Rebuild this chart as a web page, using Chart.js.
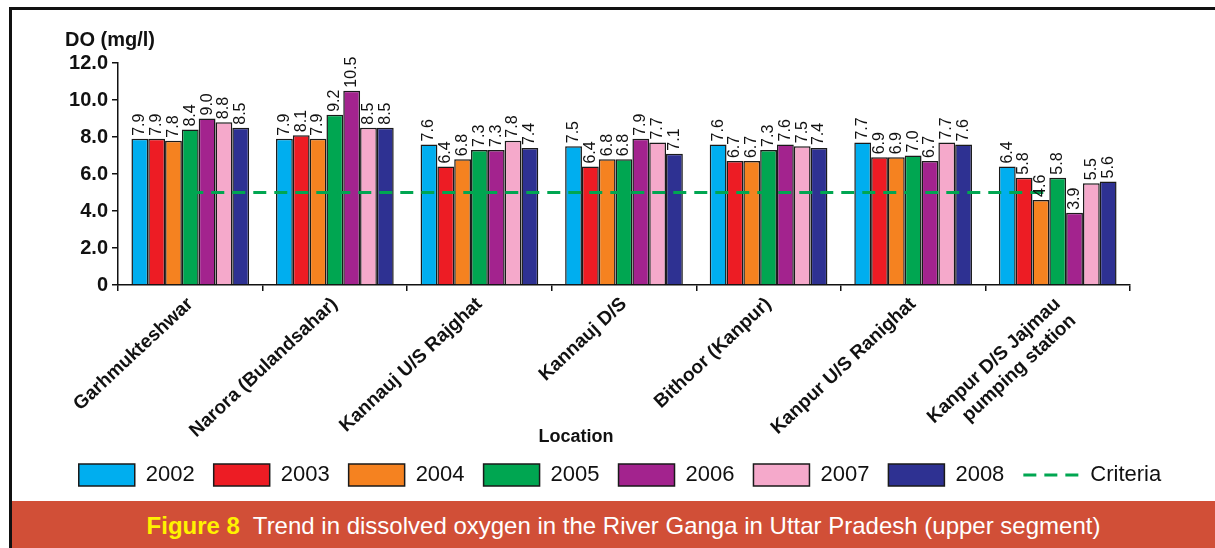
<!DOCTYPE html>
<html>
<head>
<meta charset="utf-8">
<script src="https://cdn.jsdelivr.net/npm/chart.js@4.4.0/dist/chart.umd.min.js"></script>
<style>
  body { margin: 0; background: #fff; width: 1215px; height: 548px; overflow: hidden; position: relative; font-family: 'Liberation Sans', Arial, sans-serif; }
  #frame { position: absolute; left: 9px; top: 7px; width: 1220px; height: 560px; border-left: 3px solid #111; border-top: 3px solid #111; }
  #wrap { position: absolute; left: 12px; top: 10px; width: 1203px; height: 490px; }
  #banner { position: absolute; left: 12px; top: 501px; width: 1183px; padding-left: 20px; height: 47px; background: #D14F37; color: #fff; font-size: 24px; line-height: 49px; text-align: center; white-space: nowrap; }
  #banner b { color: #FFF200; }
</style>
</head>
<body>
<div id="frame"></div>
<div id="wrap"><canvas id="doChart" width="1203" height="490"></canvas></div>
<div id="banner"><b>Figure 8</b>&nbsp; Trend in dissolved oxygen in the River Ganga in Uttar Pradesh (upper segment)</div>

<script>
// ---------- data ----------
const locations = [
    "Garhmukteshwar",
    "Narora (Bulandsahar)",
    "Kannauj U/S Rajghat",
    "Kannauj D/S",
    "Bithoor (Kanpur)",
    "Kanpur U/S Ranighat",
    ["Kanpur D/S Jajmau", "pumping station"]
];

const years = ["2002", "2003", "2004", "2005", "2006", "2007", "2008"];

const do2002 = [7.9, 7.9, 7.6, 7.5, 7.6, 7.7, 6.4];
const do2003 = [7.9, 8.1, 6.4, 6.4, 6.7, 6.9, 5.8];
const do2004 = [7.8, 7.9, 6.8, 6.8, 6.7, 6.9, 4.6];
const do2005 = [8.4, 9.2, 7.3, 6.8, 7.3, 7.0, 5.8];
const do2006 = [9.0, 10.5, 7.3, 7.9, 7.6, 6.7, 3.9];
const do2007 = [8.8, 8.5, 7.8, 7.7, 7.5, 7.7, 5.5];
const do2008 = [8.5, 8.5, 7.4, 7.1, 7.4, 7.6, 5.6];

const criteria = [5, 5, 5, 5, 5, 5, 5];

const yTickLabels = ["0", "2.0", "4.0", "6.0", "8.0", "10.0", "12.0"];

// ---------- styles ----------
const barColors = ["#00AEEF", "#ED1C24", "#F58220", "#00A651", "#A3238E", "#F5A9CB", "#2E3192"];
const criteriaColor = "#00A651";
const ink = "#111";
const boldFont = "'Liberation Sans', Arial, sans-serif";
const narrowFont = "'Liberation Sans Narrow', 'Arial Narrow', 'Liberation Sans', sans-serif";

const yearData = [do2002, do2003, do2004, do2005, do2006, do2007, do2008];

const datasets = years.map((year, i) => ({
    type: "bar",
    label: year,
    data: yearData[i],
    backgroundColor: barColors[i],
    borderColor: "#1a1a1a",
    borderWidth: 1.5,
    categoryPercentage: 0.814,
    barPercentage: 1.0,
    order: 1
}));

datasets.push({
    type: "line",
    label: "Criteria",
    data: criteria,
    borderColor: criteriaColor,
    borderWidth: 3,
    borderDash: [13, 8],
    pointRadius: 0,
    fill: false,
    order: 0
});

// value labels above bars, rotated
const valueLabels = {
    id: "valueLabels",
    afterDatasetsDraw(chart) {
        const ctx = chart.ctx;
        ctx.save();
        ctx.font = "16px " + narrowFont;
        ctx.fillStyle = ink;
        ctx.textAlign = "left";
        ctx.textBaseline = "middle";
        chart.data.datasets.forEach((ds, i) => {
            if (ds.type === "line") return;
            chart.getDatasetMeta(i).data.forEach((bar, j) => {
                ctx.save();
                ctx.translate(bar.x, bar.y - 3);
                ctx.rotate(-Math.PI / 2);
                ctx.fillText(ds.data[j].toFixed(1), 0, 0);
                ctx.restore();
            });
        });
        ctx.restore();
    }
};

// axis titles
const axisTitles = {
    id: "axisTitles",
    afterDraw(chart) {
        const ctx = chart.ctx;
        const area = chart.chartArea;
        ctx.save();
        ctx.fillStyle = ink;
        ctx.textBaseline = "middle";
        ctx.font = "bold 20px " + boldFont;
        ctx.textAlign = "left";
        ctx.fillText("DO (mg/l)", area.left - 53, area.top - 23);
        ctx.font = "bold 18px " + boldFont;
        ctx.textAlign = "center";
        ctx.fillText("Location", area.left + 458, area.bottom + 152);
        ctx.restore();
    }
};

new Chart(document.getElementById("doChart"), {
    type: "bar",
    data: {
        labels: locations,
        datasets: datasets
    },
    options: {
        responsive: false,
        animation: false,
        devicePixelRatio: 1,
        layout: {
            padding: { left: 13, top: 53, right: 0, bottom: 4 }
        },
        plugins: {
            tooltip: { enabled: false },
            legend: {
                position: "bottom",
                labels: {
                    usePointStyle: true,
                    pointStyleWidth: 56,
                    boxWidth: 56,
                    boxHeight: 22,
                    padding: 19,
                    color: ink,
                    font: { size: 22, family: boldFont },
                    generateLabels(chart) {
                        return chart.data.datasets.map((ds, i) => ({
                            text: ds.label,
                            datasetIndex: i,
                            fillStyle: ds.type === "line" ? "rgba(0,0,0,0)" : ds.backgroundColor,
                            strokeStyle: ds.borderColor,
                            lineWidth: ds.type === "line" ? 3 : 1.5,
                            lineDash: ds.type === "line" ? ds.borderDash : [],
                            pointStyle: ds.type === "line" ? "line" : "rect",
                            rotation: 0,
                            fontColor: ink,
                            hidden: false
                        }));
                    }
                }
            }
        },
        scales: {
            x: {
                grid: {
                    display: true,
                    drawOnChartArea: false,
                    drawTicks: true,
                    tickLength: 6,
                    color: ink,
                    lineWidth: 1.5
                },
                border: { display: true, color: ink, width: 1.5 },
                ticks: {
                    minRotation: 43,
                    maxRotation: 43,
                    padding: 2,
                    color: ink,
                    font: { size: 19, weight: "bold", family: narrowFont }
                },
                afterFit(scale) {
                    scale.height = 160;
                }
            },
            y: {
                min: 0,
                max: 12,
                grid: {
                    display: true,
                    drawOnChartArea: false,
                    drawTicks: true,
                    tickLength: 6,
                    color: ink,
                    lineWidth: 1.5
                },
                border: { display: true, color: ink, width: 1.5 },
                ticks: {
                    stepSize: 2,
                    padding: 4,
                    color: ink,
                    font: { size: 20, weight: "bold", family: boldFont },
                    callback: (v, i) => yTickLabels[i]
                },
                afterFit(scale) {
                    scale.width = 93;
                }
            },
            yRight: {
                position: "right",
                display: true,
                grid: { display: false },
                ticks: { display: false },
                border: { display: false },
                afterFit(scale) {
                    scale.width = 85;
                }
            }
        }
    },
    plugins: [valueLabels, axisTitles]
});
</script>
</body>
</html>
